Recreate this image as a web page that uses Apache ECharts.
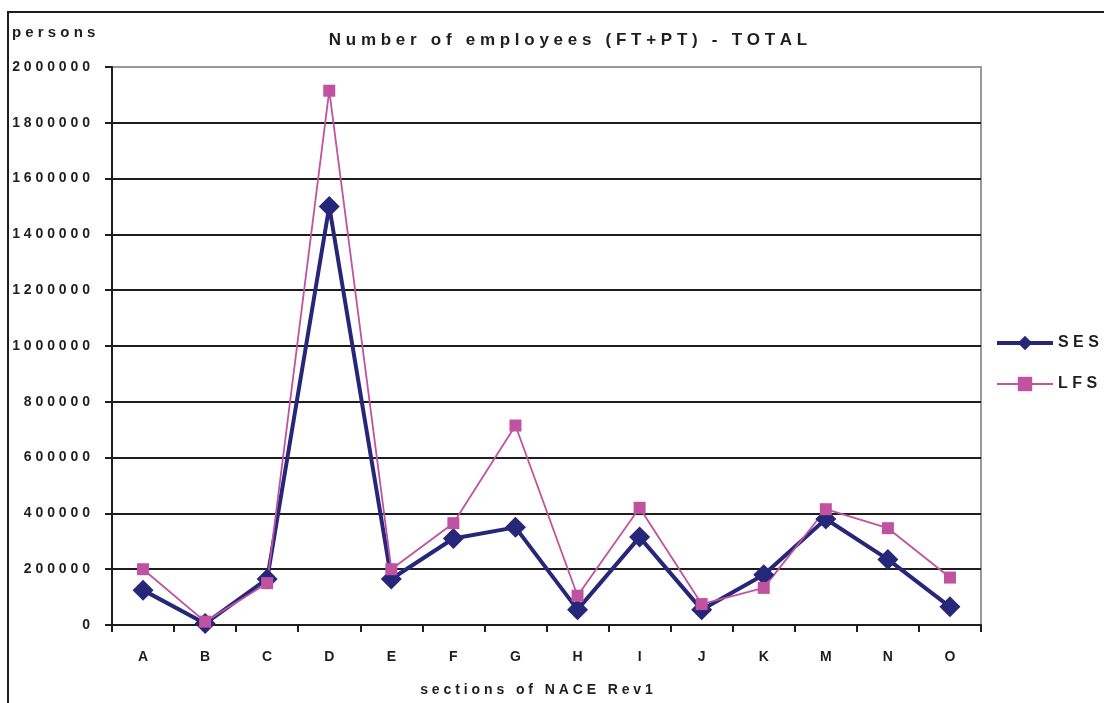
<!DOCTYPE html>
<html>
<head>
<meta charset="utf-8">
<script src="https://cdn.jsdelivr.net/npm/echarts@6/dist/echarts.min.js"></script>
<style>
  html, body { margin: 0; padding: 0; background: #fff; }
  #chart { width: 1104px; height: 703px; }
</style>
</head>
<body>
<div id="chart"></div>
<script>
// NACE Rev1 sections
const sections = ['A', 'B', 'C', 'D', 'E', 'F', 'G', 'H', 'I', 'J', 'K', 'M', 'N', 'O'];
// Structure of Earnings Survey totals (persons)
const sesValues = [125000, 5000, 165000, 1500000, 165000, 310000, 350000, 55000, 315000, 55000, 180000, 380000, 235000, 65000];
// Labour Force Survey totals (persons)
const lfsValues = [200000, 12000, 150000, 1915000, 200000, 365000, 715000, 105000, 420000, 75000, 133000, 415000, 347000, 170000];
const titleText = 'Number of employees (FT+PT) - TOTAL';
const yUnitText = 'persons';
const xAxisTitle = 'sections of NACE Rev1';

// Wide character spacing: a space between letters, wider gaps between words
function spaced(s) {
  return s.split(' ').map(w => w.split('').join(' ')).join('   ');
}

const FONT = '"Liberation Sans", Arial, sans-serif';
const INK = '#1e1e1e';
const SES_COLOR = '#27277a';
const LFS_COLOR = '#c0539f';

const chart = echarts.init(document.getElementById('chart'));
chart.setOption({
  animation: false,
  backgroundColor: '#fff',
  textStyle: { fontFamily: FONT },
  title: {
    text: spaced(titleText),
    left: 563, top: 27, textAlign: 'center',
    textStyle: { fontFamily: FONT, fontSize: 17, fontWeight: 'bold', color: INK }
  },
  graphic: [
    {
      type: 'rect', z: 0, silent: true,
      shape: { x: 8, y: 12, width: 1200, height: 800 },
      style: { fill: 'none', stroke: INK, lineWidth: 2 }
    },
    {
      type: 'text', left: 12, top: 25,
      style: { text: spaced(yUnitText), font: 'bold 15px ' + FONT, fill: INK }
    }
  ],
  legend: {
    orient: 'vertical',
    left: 990, top: 330,
    itemWidth: 56, itemHeight: 18, itemGap: 25,
    textStyle: { fontFamily: FONT, fontSize: 16, fontWeight: 'bold', color: INK },
    formatter: name => spaced(name),
    data: [
      { name: 'SES', lineStyle: { width: 4, color: SES_COLOR } },
      { name: 'LFS', lineStyle: { width: 1.8, color: LFS_COLOR } }
    ]
  },
  grid: {
    left: 112, right: 123, top: 67, bottom: 78,
    show: true, borderColor: '#999', borderWidth: 2, backgroundColor: '#fff'
  },
  xAxis: {
    type: 'category',
    data: sections,
    boundaryGap: true,
    name: spaced(xAxisTitle),
    nameLocation: 'middle',
    nameGap: 58,
    nameTextStyle: { fontFamily: FONT, fontSize: 14, fontWeight: 'bold', color: INK, padding: [0, 20, 0, 0] },
    axisLine: { lineStyle: { color: INK, width: 2 } },
    axisTick: { show: true, length: 7, lineStyle: { color: INK, width: 2 } },
    axisLabel: { margin: 25, fontFamily: FONT, fontSize: 14, fontWeight: 'bold', color: INK }
  },
  yAxis: {
    type: 'value',
    min: 0, max: 2000000, interval: 200000,
    axisLine: { show: true, lineStyle: { color: INK, width: 2 } },
    axisTick: { show: true, length: 7, lineStyle: { color: INK, width: 2 } },
    axisLabel: {
      margin: 22, fontFamily: FONT, fontSize: 14, fontWeight: 'bold', color: INK,
      formatter: v => String(v).split('').join(' ')
    },
    splitLine: {
      show: true,
      lineStyle: {
        width: 2,
        color: [INK, INK, INK, INK, INK, INK, INK, INK, INK, INK, '#999']
      }
    }
  },
  series: [
    {
      name: 'SES', type: 'line', data: sesValues,
      symbol: 'diamond', symbolSize: 21,
      color: SES_COLOR,
      lineStyle: { width: 4, color: SES_COLOR },
      itemStyle: { color: SES_COLOR }
    },
    {
      name: 'LFS', type: 'line', data: lfsValues,
      symbol: 'rect', symbolSize: 12,
      color: LFS_COLOR,
      lineStyle: { width: 1.8, color: LFS_COLOR },
      itemStyle: { color: LFS_COLOR }
    }
  ]
});
</script>
</body>
</html>
